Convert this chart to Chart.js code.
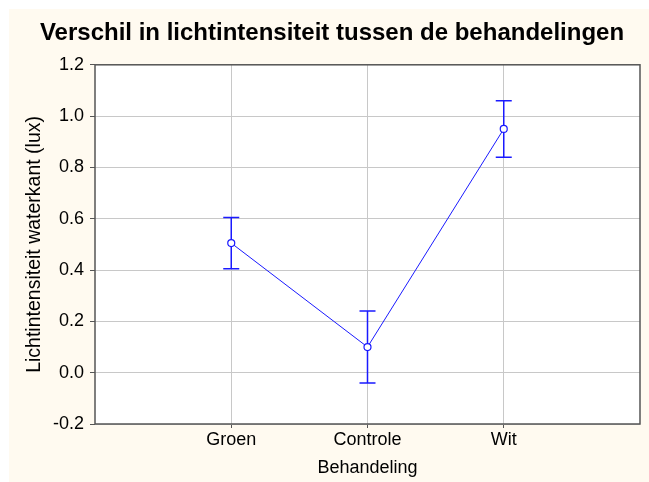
<!DOCTYPE html>
<html>
<head>
<meta charset="utf-8">
<script src="https://cdn.jsdelivr.net/npm/chart.js@4"></script>
<style>
  html, body { margin: 0; padding: 0; background: #fff; }
  #wrap { width: 649px; height: 482px; }
</style>
</head>
<body>
<div id="wrap"><canvas id="graphicLine" width="649" height="482"></canvas></div>
<script>
const categories = ["Groen", "Controle", "Wit"];
const means = [0.505, 0.10, 0.95];
const lower = [0.405, -0.04, 0.84];
const upper = [0.605, 0.24, 1.06];

const blue = "#1a1aff";

const background = {
  id: "background",
  beforeDraw(chart) {
    const ctx = chart.ctx;
    const a = chart.chartArea;
    ctx.save();
    ctx.fillStyle = "#fffaf0";
    ctx.fillRect(9, 9, chart.width - 9, chart.height - 9);
    ctx.fillStyle = "#ffffff";
    ctx.fillRect(a.left, a.top, a.right - a.left, a.bottom - a.top);
    ctx.restore();
  },
  afterDraw(chart) {
    const ctx = chart.ctx;
    const a = chart.chartArea;
    ctx.save();
    ctx.strokeStyle = "#555555";
    ctx.lineWidth = 1.5;
    ctx.strokeRect(a.left, a.top, a.right - a.left, a.bottom - a.top);
    ctx.restore();
  }
};

const errorBars = {
  id: "errorBars",
  beforeDatasetsDraw(chart) {
    const ctx = chart.ctx;
    const x = chart.scales.x, y = chart.scales.y;
    ctx.save();
    ctx.strokeStyle = blue;
    ctx.lineWidth = 1.5;
    categories.forEach((c, i) => {
      const px = x.getPixelForValue(i + 1);
      const top = y.getPixelForValue(upper[i]);
      const bot = y.getPixelForValue(lower[i]);
      ctx.beginPath();
      ctx.moveTo(px, top); ctx.lineTo(px, bot);
      ctx.moveTo(px - 8, top); ctx.lineTo(px + 8, top);
      ctx.moveTo(px - 8, bot); ctx.lineTo(px + 8, bot);
      ctx.stroke();
    });
    ctx.restore();
  }
};

const graphicLine = document.getElementById("graphicLine");

new Chart(graphicLine, {
  type: "line",
  data: {
    datasets: [
      {
        data: means.map((m, i) => ({ x: i + 1, y: m })),
        borderColor: blue,
        borderWidth: 1,
        pointRadius: 3.5,
        pointBackgroundColor: "#ffffff",
        pointBorderColor: blue,
        pointBorderWidth: 1.2,
        tension: 0,
      },
    ],
  },
  options: {
    responsive: false,
    animation: false,
    layout: { padding: { left: 15, right: 0, top: 0, bottom: 0 } },
    plugins: {
      legend: { display: false },
      tooltip: { enabled: false },
      title: {
        display: true,
        text: "Verschil in lichtintensiteit tussen de behandelingen",
        color: "#000",
        font: { family: "Liberation Sans", size: 24, weight: "bold" },
        padding: { top: 19, bottom: 17 },
      },
    },
    scales: {
      x: {
        type: "linear",
        min: 0,
        max: 4,
        afterBuildTicks: (axis) => {
          axis.ticks = [1, 2, 3].map((v) => ({ value: v }));
        },
        afterFit: (axis) => { axis.height = 58; },
        ticks: {
          color: "#000",
          font: { family: "Liberation Sans", size: 18 },
          padding: 1,
          maxRotation: 0,
          callback: (v) => categories[v - 1] || "",
        },
        grid: { color: "#c8c8c8", tickColor: "#555", tickLength: 4 },
        border: { display: false },
        title: {
          display: true,
          text: "Behandeling",
          color: "#000",
          font: { family: "Liberation Sans", size: 18 },
          padding: { top: 0, bottom: 3 },
        },
      },
      y: {
        min: -0.2,
        max: 1.2,
        afterFit: (axis) => { axis.width = 80; },
        ticks: {
          stepSize: 0.2,
          color: "#000",
          font: { family: "Liberation Sans", size: 18 },
          padding: 6,
          callback: (v) => (Math.abs(v) < 1e-9 ? 0 : v).toFixed(1),
        },
        grid: { color: "#c8c8c8", tickColor: "#555", tickLength: 5 },
        border: { display: false },
        title: {
          display: true,
          text: "Lichtintensiteit waterkant (lux)",
          color: "#000",
          font: { family: "Liberation Sans", size: 19.5 },
          padding: { top: 8, bottom: 0 },
        },
      },
      margin: {
        position: "right",
        afterFit: (axis) => { axis.width = 9; },
        ticks: { display: false },
        grid: { display: false },
        border: { display: false },
      },
    },
  },
  plugins: [background, errorBars],
});
</script>
</body>
</html>
